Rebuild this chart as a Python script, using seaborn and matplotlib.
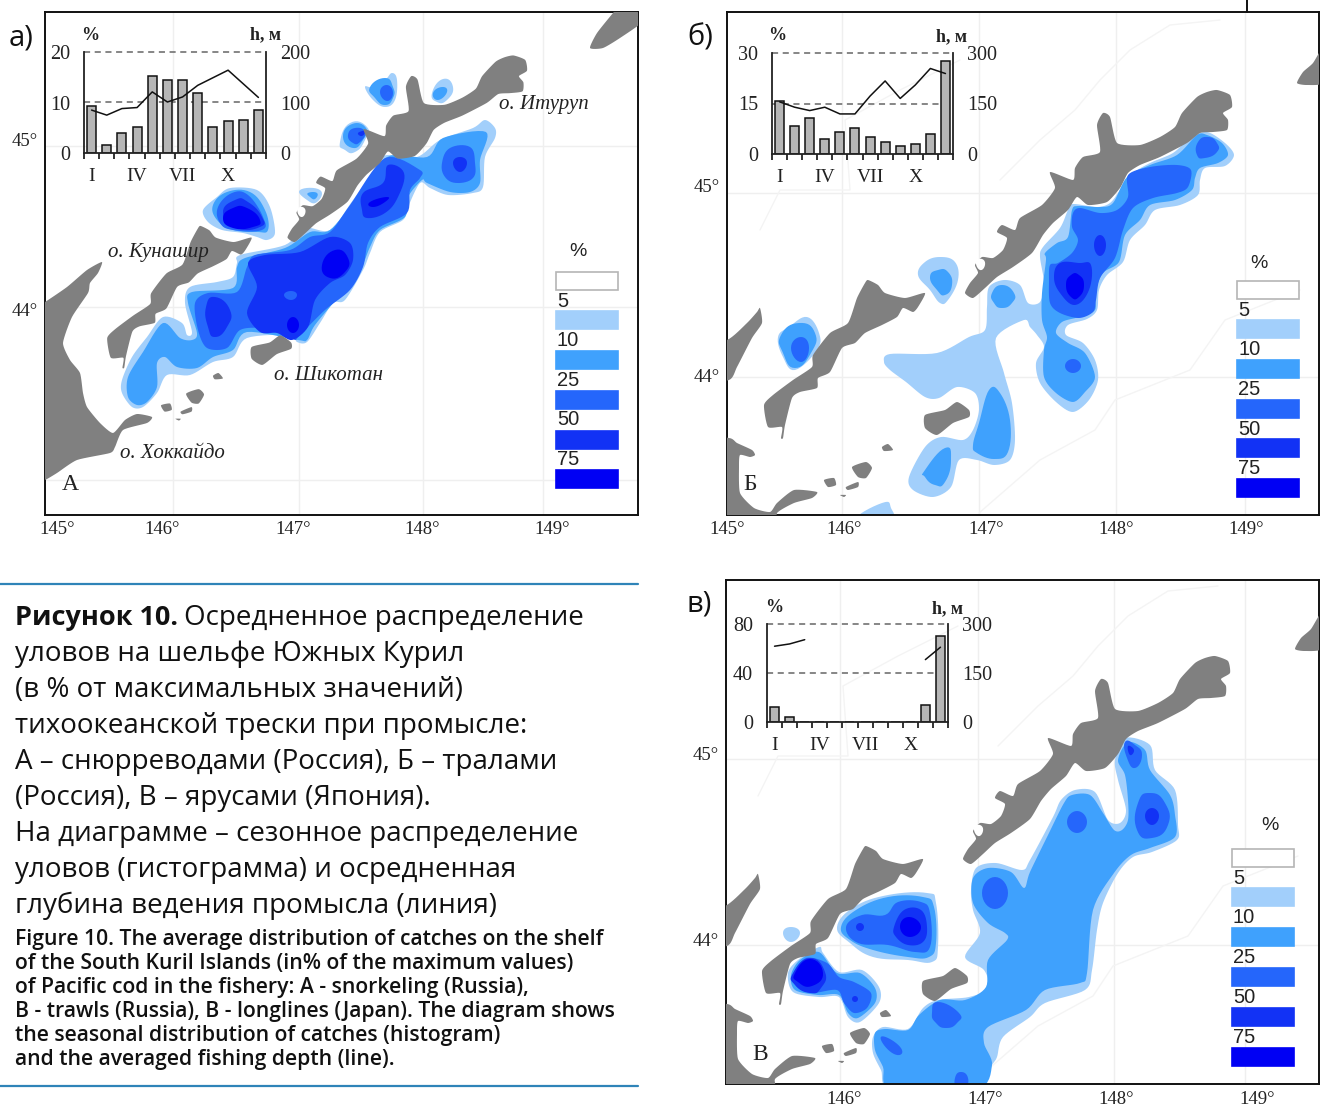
import matplotlib

matplotlib.use("Agg")
import matplotlib.pyplot as plt
import numpy as np
import seaborn as sns
from matplotlib.lines import Line2D

W, H = 1320, 1106

# monthly catch share (bars, %) and mean fishing depth (line, m)
month_labels = ["I", "IV", "VII", "X"]
bars_a = [9.4, 1.6, 3.9, 5.2, 15.3, 14.4, 14.4, 11.9, 5.2, 6.3, 6.6, 8.5]
depth_a = [85, 75, 88, 90, 121, 101, 111, 134, 149, 164, 137, 110]
bars_b = [15.7, 8.2, 10.6, 4.5, 6.4, 7.8, 5.0, 3.5, 2.3, 3.1, 6.0, 27.7]
depth_b = [155, 139, 129, 139, 119, 119, 172, 217, 165, 205, 254, 239]
bars_c = [11.9, 4.0, 0, 0, 0, 0, 0, 0, 0, 0, 14.0, 69.8]
depth_c_winter_x = [0, 1, 2]
depth_c_winter = [232, 239, 252]
depth_c_end_x = [10, 11]
depth_c_end = [191, 229]

legend_levels = ["5", "10", "25", "50", "75"]
level_colors = ["#ffffff", "#a2cffb", "#3fa1fd", "#2566fb", "#1232f5", "#0000f4"]

# land, drawn in panel б coordinates
iturup = [(1217, 90), (1230, 95), (1232, 107), (1223, 113), (1228, 120), (1227, 130), (1213, 132), (1200, 133),
          (1187, 143), (1160, 157), (1140, 165), (1128, 173), (1120, 188), (1107, 202), (1088, 205), (1077, 197),
          (1068, 210), (1053, 223), (1043, 235), (1032, 253), (1013, 267), (997, 277), (985, 288), (973, 298),
          (965, 293), (970, 283), (978, 273), (975, 265), (982, 257), (993, 258), (1003, 250), (1007, 238),
          (997, 232), (1002, 225), (1015, 230), (1020, 218), (1042, 205), (1055, 188), (1050, 172), (1073, 180),
          (1075, 168), (1083, 157), (1100, 152), (1097, 125), (1103, 113), (1110, 117), (1117, 143), (1140, 145),
          (1160, 137), (1175, 127), (1182, 113), (1197, 97), (1207, 92)]
kunashir = [(868, 280), (878, 285), (885, 293), (905, 298), (925, 293), (918, 307), (913, 312), (903, 308), (897, 317),
            (882, 325), (865, 333), (855, 343), (842, 348), (830, 372), (818, 378), (817, 388), (800, 392), (792, 398),
            (785, 425), (783, 438), (781, 438), (782, 427), (768, 427), (764, 405), (773, 395), (793, 380), (812, 367),
            (813, 355), (830, 333), (848, 323), (857, 298), (865, 283)]
hokkaido_n = [(760, 308), (762, 323), (752, 338), (737, 367), (729, 380), (690, 385), (690, 345), (727, 340),
              (747, 323), (757, 312)]
hokkaido_s = [(690, 438), (729, 438), (737, 443), (752, 450), (755, 455), (750, 457), (740, 455), (739, 467),
              (740, 493), (754, 508), (770, 512), (777, 503), (794, 490), (817, 492), (812, 498), (794, 503),
              (777, 513), (774, 530), (690, 540)]
shikotan = [(925, 415), (945, 410), (957, 402), (969, 410), (969, 417), (953, 423), (937, 435), (925, 428)]
habomai_1 = [(882, 447), (888, 444), (893, 450), (884, 451)]
habomai_2 = [(852, 467), (866, 462), (872, 468), (866, 478), (858, 477)]
habomai_3 = [(824, 480), (834, 478), (836, 485), (828, 487)]
habomai_4 = [(846, 487), (858, 482), (858, 487), (848, 490)]
habomai_5 = [(840, 495), (846, 495), (844, 497)]
urup_b = [(1325, 45), (1313, 63), (1303, 72), (1297, 83), (1307, 85), (1325, 82)]
iturup_lake = [(976, 262), (982, 259), (985, 265), (980, 270)]
# panel а shows more of Hokkaido and Urup than б does, so these sit in its own coordinates
hokkaido_a = [(102, 262), (98, 273), (90, 283), (88, 293), (72, 317), (63, 343), (70, 360), (80, 373), (83, 393),
              (87, 407), (100, 423), (113, 433), (125, 420), (137, 414), (152, 417), (147, 423), (123, 430), (115, 447),
              (110, 453), (77, 460), (57, 473), (45, 480), (38, 480), (38, 305), (45, 302), (67, 287), (87, 270)]
urup_a = [(613, 13), (597, 33), (590, 48), (603, 48), (620, 38), (645, 20), (645, 5), (620, 5)]
islands_shared = [iturup, kunashir, shikotan, habomai_1, habomai_2, habomai_3, habomai_4, habomai_5]
land_b = islands_shared + [hokkaido_n, hokkaido_s, urup_b]
land_a_own = [hokkaido_a, urup_a]

# panel а catch zones
a_main_1 = [(485, 120), (495, 128), (495, 138), (485, 157), (483, 187), (473, 193), (448, 195), (430, 188),
            (420, 183), (408, 207), (403, 220), (380, 232), (370, 253), (363, 270), (345, 300), (333, 303),
            (320, 323), (307, 342), (297, 342), (290, 335), (247, 338), (233, 357), (213, 362), (190, 375),
            (167, 375), (157, 393), (143, 407), (132, 407), (122, 393), (122, 380), (132, 357), (147, 337),
            (163, 317), (182, 323), (187, 335), (192, 332), (185, 303), (190, 287), (217, 282), (233, 277),
            (237, 263), (240, 255), (285, 245), (305, 228), (330, 230), (353, 200), (380, 163), (387, 155),
            (417, 157), (440, 140), (473, 128)]
a_main_2 = [(486, 132), (480, 160), (480, 183), (470, 192), (450, 192), (427, 183), (422, 180),
            (408, 197), (405, 217), (380, 230), (370, 247), (360, 270), (340, 295), (315, 325), (307, 340),
            (298, 340), (247, 332), (233, 350), (213, 357), (197, 368), (177, 367), (165, 357), (157, 363),
            (157, 387), (147, 402), (137, 405), (128, 397), (128, 377), (143, 352), (163, 323), (180, 338),
            (192, 340), (197, 333), (188, 303), (192, 292), (233, 288), (237, 267), (245, 258), (285, 248),
            (310, 232), (330, 230), (357, 197), (387, 157), (427, 157), (443, 138)]
a_main_3 = [(385, 158), (420, 170), (420, 178), (410, 190), (407, 213), (380, 227), (368, 243), (363, 267),
            (350, 290), (325, 310), (300, 335), (295, 340), (287, 332), (263, 328), (240, 330), (227, 348),
            (207, 348), (198, 330), (195, 303), (208, 293), (237, 292), (247, 267), (255, 255), (290, 250),
            (310, 237), (330, 232), (350, 205)]
a_ne_3 = [(442, 163), (450, 148), (470, 147), (475, 163), (473, 178), (457, 183), (445, 177)]
a_ne_4 = [(453, 163), (460, 157), (467, 163), (460, 172)]
a_up_4 = [(388, 165), (404, 173), (398, 197), (385, 213), (367, 218), (362, 210), (363, 193), (383, 183)]
a_up_5 = [(370, 202), (387, 197), (385, 202), (373, 207)]
a_mid_4 = [(248, 263), (265, 255), (300, 252), (330, 237), (350, 243), (353, 260), (345, 275), (330, 283),
           (315, 300), (308, 327), (292, 340), (277, 333), (260, 332), (247, 313), (257, 287)]
a_mid_5 = [(322, 265), (335, 250), (348, 258), (345, 272), (330, 278)]
a_low_5 = [(287, 325), (293, 317), (299, 325), (293, 333)]
a_spot_3 = [(284, 295), (291, 291), (297, 295), (291, 300)]
a_west_4 = [(206, 307), (215, 297), (230, 310), (227, 327), (215, 337), (208, 327)]
a_nw_1 = [(203, 210), (217, 197), (230, 188), (257, 190), (270, 207), (275, 233), (267, 240), (257, 237),
          (243, 233), (222, 230), (208, 222)]
a_nw_2 = [(213, 205), (227, 192), (250, 192), (265, 210), (268, 230), (257, 232), (233, 230), (217, 220)]
a_nw_3 = [(218, 207), (232, 193), (248, 195), (263, 217), (262, 230), (233, 230), (220, 223)]
a_nw_4 = [(223, 213), (235, 200), (248, 202), (262, 217), (260, 227), (237, 228)]
a_nw_5 = [(223, 218), (233, 208), (247, 208), (260, 220), (253, 227), (233, 228)]
a_b1_1 = [(365, 87), (373, 87), (385, 80), (392, 73), (397, 80), (395, 100), (385, 107), (373, 100)]
a_b1_2 = [(370, 87), (385, 78), (393, 87), (393, 98), (385, 105), (375, 98)]
a_b1_3 = [(380, 92), (387, 85), (393, 93), (387, 101)]
a_b2_1 = [(432, 93), (443, 79), (453, 87), (447, 100), (437, 102)]
a_b2_2 = [(433, 93), (442, 87), (447, 92), (438, 100)]
a_b3_1 = [(340, 142), (350, 123), (367, 127), (365, 140), (355, 152), (345, 150)]
a_b3_2 = [(343, 137), (352, 124), (366, 128), (363, 140), (353, 148)]
a_b3_3 = [(348, 135), (355, 128), (365, 132), (360, 142), (353, 143)]
a_b3_4 = [(358, 133), (365, 131), (362, 136)]
a_b4_1 = [(300, 190), (320, 190), (317, 202), (307, 200)]
a_b4_2 = [(308, 193), (317, 193), (315, 199), (310, 197)]
zones_a = [(1, a_main_1), (2, a_main_2), (3, a_main_3), (3, a_ne_3), (4, a_ne_4), (4, a_up_4), (5, a_up_5),
           (4, a_mid_4), (5, a_mid_5), (5, a_low_5), (3, a_spot_3), (4, a_west_4), (1, a_nw_1), (2, a_nw_2),
           (3, a_nw_3), (4, a_nw_4), (5, a_nw_5), (1, a_b1_1), (2, a_b1_2), (3, a_b1_3), (1, a_b2_1), (2, a_b2_2),
           (1, a_b3_1), (2, a_b3_2), (3, a_b3_3), (4, a_b3_4), (1, a_b4_1), (2, a_b4_2)]

# panel б catch zones
b_main_1 = [(1207, 132), (1225, 143), (1234, 155), (1225, 166), (1205, 168), (1200, 180), (1198, 195), (1180, 205),
            (1155, 210), (1145, 225), (1130, 240), (1123, 262), (1107, 275), (1099, 290), (1097, 310), (1087, 319),
            (1068, 325), (1066, 335), (1083, 343), (1095, 360), (1098, 380), (1089, 400), (1073, 412), (1056, 402),
            (1040, 383), (1036, 363), (1044, 347), (1037, 335), (1030, 327), (1024, 320), (996, 338), (1004, 373),
            (1012, 403), (1015, 440), (1010, 460), (994, 465), (977, 460), (959, 460), (951, 487), (933, 497),
            (913, 490), (909, 477), (925, 447), (941, 437), (963, 440), (973, 430), (979, 410), (975, 393),
            (957, 387), (939, 398), (925, 397), (906, 382), (890, 370), (884, 362), (890, 354), (937, 353),
            (969, 337), (985, 330), (987, 307), (989, 287), (1004, 280), (1020, 285), (1028, 303), (1040, 302),
            (1044, 283), (1040, 257), (1043, 247), (1060, 228), (1068, 210), (1073, 204), (1097, 207), (1110, 203),
            (1120, 190), (1130, 175), (1150, 163), (1173, 153), (1190, 138)]
b_main_2 = [(1207, 135), (1222, 143), (1228, 155), (1218, 163), (1200, 168), (1195, 178), (1192, 190), (1175, 200),
            (1150, 205), (1140, 220), (1125, 235), (1119, 262), (1103, 273), (1095, 293), (1095, 310), (1079, 317),
            (1062, 322), (1056, 333), (1068, 343), (1085, 353), (1095, 377), (1085, 392), (1073, 402), (1056, 393),
            (1044, 377), (1044, 350), (1047, 337), (1042, 320), (1042, 293), (1046, 260), (1045, 253), (1057, 243),
            (1068, 237), (1072, 210), (1078, 206), (1100, 207), (1113, 203), (1127, 177), (1150, 165), (1177, 155),
            (1197, 135)]
b_main_3 = [(1080, 208), (1100, 213), (1117, 210), (1128, 197), (1128, 175), (1150, 167), (1177, 165), (1191, 170),
            (1188, 187), (1177, 193), (1153, 198), (1133, 208), (1123, 230), (1115, 258), (1100, 278), (1096, 300),
            (1093, 312), (1079, 318), (1060, 313), (1050, 303), (1049, 280), (1050, 265), (1058, 263), (1072, 253),
            (1078, 240), (1072, 227), (1073, 213)]
b_tip_3 = [(1198, 142), (1208, 137), (1217, 143), (1217, 152), (1205, 158), (1197, 155)]
b_low_3 = [(1065, 366), (1073, 359), (1081, 366), (1073, 373)]
b_spot_4 = [(1094, 245), (1100, 235), (1106, 245), (1100, 256)]
b_core_4 = [(1060, 263), (1079, 263), (1091, 265), (1089, 290), (1075, 305), (1060, 293), (1054, 277)]
b_core_5 = [(1066, 285), (1071, 275), (1079, 275), (1084, 285), (1079, 297), (1071, 297)]
b_west_1 = [(778, 337), (789, 327), (807, 317), (819, 333), (817, 350), (795, 370), (783, 357)]
b_west_2 = [(781, 335), (799, 323), (815, 333), (811, 353), (795, 368), (783, 353)]
b_west_3 = [(791, 348), (801, 337), (809, 348), (801, 362)]
b_c1_1 = [(918, 275), (925, 262), (940, 257), (955, 262), (958, 280), (948, 300), (940, 303), (930, 290)]
b_c1_2 = [(930, 277), (938, 270), (948, 272), (952, 285), (945, 295), (937, 290)]
b_c2_2 = [(992, 293), (1002, 285), (1014, 293), (1012, 303), (1002, 308), (994, 303)]
b_c3_2 = [(973, 445), (979, 423), (989, 390), (1000, 393), (1010, 420), (1008, 452), (994, 459), (977, 453)]
b_c4_2 = [(925, 470), (945, 448), (951, 460), (945, 482), (935, 485), (925, 477)]
b_foot_1 = [(856, 520), (882, 503), (891, 508), (889, 520)]
zones_b = [(1, b_main_1), (2, b_main_2), (3, b_main_3), (3, b_tip_3), (3, b_low_3), (4, b_spot_4), (4, b_core_4),
           (5, b_core_5), (1, b_west_1), (2, b_west_2), (3, b_west_3), (1, b_c1_1), (2, b_c1_2), (2, b_c2_2),
           (2, b_c3_2), (2, b_c4_2), (1, b_foot_1)]

# panel в catch zones
c_main_1 = [(1125, 738), (1150, 745), (1155, 770), (1175, 790), (1178, 825), (1177, 840), (1152, 852), (1133, 857),
            (1118, 873), (1103, 903), (1097, 930), (1092, 970), (1085, 990), (1045, 1003), (1030, 1017), (1003, 1037),
            (997, 1057), (992, 1065), (976, 1090), (892, 1090), (881, 1070), (873, 1053), (873, 1037), (883, 1027),
            (908, 1029), (923, 1008), (938, 1000), (969, 997), (988, 988), (984, 970), (965, 957), (980, 933),
            (973, 910), (971, 890), (976, 868), (996, 863), (1022, 870), (1030, 860), (1053, 817), (1061, 800),
            (1075, 790), (1095, 792), (1108, 820), (1120, 823), (1126, 810), (1118, 780), (1115, 760)]
c_main_2 = [(1128, 742), (1145, 750), (1150, 770), (1170, 795), (1175, 815), (1175, 837), (1150, 848), (1131, 855),
            (1114, 873), (1093, 910), (1087, 973), (1080, 983), (1045, 990), (1026, 1010), (988, 1027), (984, 1043),
            (992, 1065), (976, 1090), (892, 1090), (883, 1067), (875, 1050), (875, 1033), (885, 1029), (908, 1030),
            (919, 1015), (940, 1000), (965, 1000), (986, 987), (988, 960), (1007, 940), (1005, 933), (988, 923),
            (973, 903), (973, 878), (988, 868), (1011, 872), (1024, 888), (1030, 872), (1049, 833), (1064, 803),
            (1072, 795), (1090, 795), (1103, 813), (1114, 830), (1122, 830), (1128, 820), (1128, 800), (1125, 775),
            (1118, 760)]
c_s1_3 = [(1067, 822), (1077, 811), (1087, 822), (1077, 833)]
c_s2_3 = [(1138, 803), (1150, 793), (1165, 803), (1168, 825), (1152, 838), (1137, 830)]
c_s2_4 = [(1145, 816), (1152, 808), (1159, 816), (1152, 825)]
c_s3_3 = [(1125, 742), (1135, 745), (1142, 755), (1135, 768), (1127, 758)]
c_s3_4 = [(1128, 746), (1134, 750), (1130, 755)]
c_s4_3 = [(982, 893), (995, 877), (1008, 893), (995, 909)]
c_s5_3 = [(932, 1013), (938, 1002), (959, 1013), (957, 1023), (946, 1028), (936, 1023)]
c_s6_3 = [(881, 1040), (888, 1038), (902, 1050), (894, 1054)]
c_s7_3 = [(955, 1078), (961, 1072), (968, 1078), (965, 1088), (957, 1088)]
c_mid_1 = [(837, 927), (854, 907), (888, 895), (927, 893), (936, 903), (938, 947), (932, 962), (908, 960), (873, 957),
           (850, 943)]
c_mid_2 = [(841, 927), (856, 910), (888, 897), (923, 897), (934, 907), (936, 943), (929, 957), (908, 957), (873, 950),
           (850, 940)]
c_mid_3 = [(846, 927), (862, 915), (885, 915), (898, 902), (921, 902), (930, 913), (930, 947), (915, 952), (888, 945),
           (858, 943)]
c_mid_4 = [(894, 927), (904, 910), (921, 910), (927, 927), (923, 942), (908, 945), (896, 937)]
c_mid_5 = [(900, 927), (909, 917), (921, 927), (910, 937)]
c_dot_4 = [(856, 927), (860, 923), (864, 927), (860, 931)]
c_spot_1 = [(783, 933), (791, 927), (800, 933), (791, 942)]
c_sw_1 = [(788, 973), (798, 960), (819, 947), (823, 953), (839, 972), (862, 970), (879, 987), (879, 1003), (860, 1022),
          (848, 1017), (839, 997), (819, 997), (793, 992)]
c_sw_2 = [(791, 975), (800, 960), (819, 952), (837, 973), (860, 973), (875, 988), (875, 1003), (858, 1018), (848, 1013),
          (839, 995), (818, 995), (795, 990)]
c_sw_3 = [(793, 975), (806, 958), (827, 963), (839, 977), (854, 982), (871, 993), (867, 1008), (854, 1013), (844, 1003),
          (837, 990), (812, 993), (797, 987)]
c_sw_4 = [(793, 973), (810, 958), (825, 972), (821, 988), (810, 993), (795, 985)]
c_sw_5 = [(795, 973), (810, 959), (823, 973), (812, 986), (798, 982)]
c_dot2_4 = [(852, 999), (855, 996), (858, 999), (855, 1002)]
zones_c = [(1, c_main_1), (2, c_main_2), (3, c_s1_3), (3, c_s2_3), (4, c_s2_4), (3, c_s3_3), (4, c_s3_4), (3, c_s4_3),
           (3, c_s5_3), (3, c_s6_3), (3, c_s7_3), (1, c_mid_1), (2, c_mid_2), (3, c_mid_3), (4, c_mid_4), (5, c_mid_5),
           (4, c_dot_4), (1, c_spot_1), (1, c_sw_1), (2, c_sw_2), (3, c_sw_3), (4, c_sw_4), (5, c_sw_5), (4, c_dot2_4)]

# faint graticule and isobath lines
grid_x_a = [173, 299, 423, 543]
grid_y_a = [146, 307, 480]
grid_x_b = [842, 979, 1116, 1245]
grid_y_b = [193, 377]
grid_x_c = [840, 978, 1114, 1245]
grid_y_c = [759, 945]
isobath_1 = [(979, 513), (1040, 460), (1095, 430), (1115, 400), (1190, 370), (1225, 320), (1300, 290)]
isobath_2 = [(1000, 180), (1040, 140), (1075, 110), (1100, 80), (1130, 50), (1170, 25), (1220, 20)]
isobath_3 = [(760, 230), (780, 190), (850, 190), (845, 120), (900, 90), (960, 60)]

sns.set_theme(style="white")
plt.rcParams["font.family"] = ["Liberation Serif", "DejaVu Serif"]
plt.rcParams["axes.unicode_minus"] = False


def px_axes(fig, x0, y0, x1, y1, **kw):
    return fig.add_axes([x0 / W, 1 - y1 / H, (x1 - x0) / W, (y1 - y0) / H], **kw)


def rounded(points, tension=None, steps=8):
    # closed cardinal spline through the read points, so outlines stay where they were read
    pts = np.array(points, dtype=float)
    if tension is None:
        # few points: a stiffer tangent keeps small spots round instead of diamond shaped
        tension = 0.8 if len(pts) <= 6 else 0.6 if len(pts) <= 10 else 0.45
    p0, p1, p2, p3 = np.roll(pts, 1, axis=0), pts, np.roll(pts, -1, axis=0), np.roll(pts, -2, axis=0)
    m1, m2 = tension * (p2 - p0), tension * (p3 - p1)
    out = []
    for t in np.linspace(0, 1, steps, endpoint=False):
        out.append((2 * t ** 3 - 3 * t ** 2 + 1) * p1 + (t ** 3 - 2 * t ** 2 + t) * m1
                   + (-2 * t ** 3 + 3 * t ** 2) * p2 + (t ** 3 - t ** 2) * m2)
    return np.stack(out, axis=1).reshape(-1, 2)


def draw_map(box, zones, shared_land, own_land, land_scale, land_dx, land_dy, grid_x, grid_y, xticks, xtick_labels,
             yticks, ytick_labels, xpad=4.5):
    x0, y0, x1, y1 = box
    ax = px_axes(fig, x0, y0, x1, y1)
    ax.set_xlim(x0, x1)
    ax.set_ylim(y1, y0)
    ax.set_facecolor("white")
    for gx in grid_x:
        ax.axvline(gx, color="#efefef", lw=1, zorder=1)
    for gy in grid_y:
        ax.axhline(gy, color="#efefef", lw=1, zorder=1)
    if land_scale == 1:
        for line in [isobath_1, isobath_2, isobath_3]:
            pts = np.array(line, dtype=float)
            ax.plot(pts[:, 0] + land_dx, pts[:, 1] + land_dy, color="#f4f4f4", lw=1, zorder=1)
    for level, shape in zones:
        pts = rounded(shape)
        ax.fill(pts[:, 0], pts[:, 1], color=level_colors[level], lw=0, zorder=2)
    for shape in shared_land:
        pts = rounded(shape, 0.3)
        ax.fill(pts[:, 0] * land_scale + land_dx, pts[:, 1] * land_scale + land_dy, color="#808080", lw=0, zorder=3)
    for shape in own_land:
        pts = rounded(shape, 0.3)
        ax.fill(pts[:, 0], pts[:, 1], color="#808080", lw=0, zorder=3)
    lake = rounded(iturup_lake)
    ax.fill(lake[:, 0] * land_scale + land_dx, lake[:, 1] * land_scale + land_dy, color="white", lw=0, zorder=3.5)
    ax.set_xticks(xticks, xtick_labels)
    ax.set_yticks(yticks, ytick_labels)
    ax.tick_params(length=0, labelsize=13.5, colors="#222222")
    ax.tick_params(axis="x", pad=xpad)
    ax.tick_params(axis="y", pad=5)
    for spine in ax.spines.values():
        spine.set_visible(True)
        spine.set_color("#111111")
        spine.set_linewidth(1.4)
    return ax


def draw_legend(ax, x0, x1, box_tops, label_ys, pct_xy):
    ax.text(pct_xy[0], pct_xy[1], "%", family="Liberation Sans", fontsize=14, ha="center", va="center", color="#222222")
    for i, top in enumerate(box_tops):
        ax.fill([x0, x1, x1, x0], [top, top, top + 18, top + 18], facecolor=level_colors[i],
                edgecolor="#b5b5b5" if i == 0 else level_colors[i], lw=1.2, zorder=4)
    for lab, y in zip(legend_levels, label_ys):
        ax.text(x0 + 1, y + 1.5, lab, family="Liberation Sans", fontsize=14.5, ha="left", va="center", color="#222222")


def draw_inset(box, bars, left_ticks, right_ticks, depth_segments, top_left, top_right):
    x0, y0, x1, y1 = box
    ax = px_axes(fig, x0, y0, x1, y1)
    ax.patch.set_alpha(0)
    ax.set_zorder(5)
    sns.barplot(x=np.arange(12), y=bars, color="#b6b6b6", edgecolor="#111111", linewidth=1.1, width=0.6,
                saturation=1, ax=ax)
    ax.set_xlim(-0.5, 11.5)
    ax.set_ylim(0, left_ticks[-1])
    ax.set_yticks(left_ticks, [str(v) for v in left_ticks])
    ax.set_xticks(np.arange(-0.5, 12, 1), [""] * 13)
    ax.set_xticks([0, 3, 6, 9], month_labels, minor=True)
    ax.tick_params(axis="x", which="major", length=4, width=1.2, color="#111111", direction="out", bottom=True)
    ax.tick_params(axis="x", which="minor", length=0, pad=11, labelsize=14, colors="#222222")
    ax.tick_params(axis="y", length=0, labelsize=14.5, colors="#222222", pad=10)
    for val in left_ticks[1:]:
        ax.axhline(val, color="#666666", lw=1.1, ls=(0, (4, 3)), clip_on=False, zorder=0)
    ax.spines["top"].set_visible(False)
    for side in ["left", "right", "bottom"]:
        ax.spines[side].set_visible(True)
        ax.spines[side].set_color("#222222")
        ax.spines[side].set_linewidth(1.3)
    ax2 = ax.twinx()
    ax2.patch.set_alpha(0)
    ax2.set_zorder(6)
    for seg_x, seg_y in depth_segments:
        sns.lineplot(x=seg_x, y=seg_y, color="#111111", lw=1.1, ax=ax2)
    ax2.set_ylim(0, right_ticks[-1])
    ax2.set_yticks(right_ticks, [str(v) for v in right_ticks])
    ax2.tick_params(axis="y", length=0, labelsize=14.5, colors="#222222", pad=10)
    ax2.grid(False)
    for side in ax2.spines.values():
        side.set_visible(False)
    ax.text(top_left[0], top_left[1], "%", transform=px, fontsize=13, ha="center", va="center", color="#222222",
            fontweight="bold")
    ax.text(top_right[0], top_right[1], "h, м", transform=px, fontsize=13, ha="center", va="center",
            color="#222222", fontweight="bold")


fig = plt.figure(figsize=(W / 100, H / 100), dpi=100, facecolor="white")
px = matplotlib.transforms.Affine2D().scale(1 / W, -1 / H).translate(0, 1) + fig.transFigure

# panel а shares the island outlines of б at a smaller scale
ax_a = draw_map((45, 12, 638, 515), zones_a, islands_shared, land_a_own, 0.897, 45 + 29 - 0.897 * 727,
                12 - 26.5 - 0.897 * 12, grid_x_a, grid_y_a,
                [57, 162, 293, 422, 552], ["145°", "146°", "147°", "148°", "149°"], [139, 310], ["45°", "44°"])
ax_b = draw_map((727, 12, 1319, 515), zones_b, land_b, [], 1, 0, 0, grid_x_b, grid_y_b,
                [727, 844, 986, 1116, 1246], ["145°", "146°", "147°", "148°", "149°"], [186, 375], ["45°", "44°"])
ax_c = draw_map((726, 580, 1319, 1084), zones_c, land_b, [], 1, -2, 566, grid_x_c, grid_y_c,
                [844, 985, 1116, 1257], ["146°", "147°", "148°", "149°"], [754, 939], ["45°", "44°"], xpad=5)

draw_legend(ax_a, 556, 618, [272, 311, 351, 391, 431, 470], [300, 339, 379, 418, 458], (578, 252))
draw_legend(ax_b, 1237, 1299, [281, 320, 360, 400, 439, 479], [309, 348, 388, 428, 467], (1259, 264))
draw_legend(ax_c, 1232, 1294, [849, 888, 928, 968, 1008, 1048], [877, 916, 956, 996, 1036], (1270, 826))

for ax, x, y, label in [(ax_a, 70, 485, "А"), (ax_b, 750, 484, "Б"), (ax_c, 760, 1055, "В")]:
    ax.text(x, y, label, fontsize=17, ha="center", va="center", color="#222222", zorder=6)

for x, y, label, ax in [(108, 253, "о. Кунашир", ax_a), (274, 376, "о. Шикотан", ax_a),
                        (120, 454, "о. Хоккайдо", ax_a), (499, 105, "о. Итуруп", ax_a)]:
    ax.text(x, y, label, fontsize=15, style="italic", ha="left", va="center", color="#222222", zorder=6)

draw_inset((84, 52, 266, 153), bars_a, [0, 10, 20], [0, 100, 200], [(np.arange(12), depth_a)], (90, 35), (266, 35))
draw_inset((772, 53, 953, 154), bars_b, [0, 15, 30], [0, 150, 300], [(np.arange(12), depth_b)], (777, 36), (951, 37))
draw_inset((767, 624, 948, 722), bars_c, [0, 40, 80], [0, 150, 300],
           [(depth_c_winter_x, depth_c_winter), (depth_c_end_x, depth_c_end)], (774, 607), (947, 609))

# panel letters and caption
sans = ["Open Sans", "DejaVu Sans"]
for x, y, label in [(21, 38, "а)"), (700, 38, "б)"), (699, 604, "в)")]:
    fig.text(x, y, label, transform=px, family=sans, fontsize=21, ha="center", va="center", color="#111111")

fig.add_artist(Line2D([0, 638], [584, 584], transform=px, color="#2f84b8", lw=1.6))
fig.add_artist(Line2D([0, 638], [1086, 1086], transform=px, color="#2f84b8", lw=1.6))
fig.add_artist(Line2D([1247, 1247], [0, 12], transform=px, color="#111111", lw=1.4))

caption_ru = ["Осредненное распределение", "уловов на шельфе Южных Курил", "(в % от максимальных значений)",
              "тихоокеанской трески при промысле:", "А – снюрреводами (Россия), Б – тралами",
              "(Россия), В – ярусами (Япония).", "На диаграмме – сезонное распределение",
              "уловов (гистограмма) и осредненная", "глубина ведения промысла (линия)"]
caption_y = [618, 654, 690, 726, 762, 798, 834, 870, 906]
caption_en = ["Figure 10. The average distribution of catches on the shelf",
              "of the South Kuril Islands (in% of the maximum values)",
              "of Pacific cod in the fishery: A - snorkeling (Russia),",
              "B - trawls (Russia), B - longlines (Japan). The diagram shows",
              "the seasonal distribution of catches (histogram)",
              "and the averaged fishing depth (line)."]
caption_en_y = [940, 964, 988, 1012, 1036, 1060]

fig.text(15, caption_y[0], "Рисунок 10.", transform=px, family=sans, fontsize=19.5, fontweight="bold", va="center",
         color="#111111")
for i, (line, y) in enumerate(zip(caption_ru, caption_y)):
    fig.text(184 if i == 0 else 15, y, line, transform=px, family=sans, fontsize=20, va="center", color="#111111")
for line, y in zip(caption_en, caption_en_y):
    fig.text(15, y, line, transform=px, family=sans, fontsize=15.2, fontweight="semibold", va="center",
             color="#111111")

fig.savefig("out.png", dpi=100)
